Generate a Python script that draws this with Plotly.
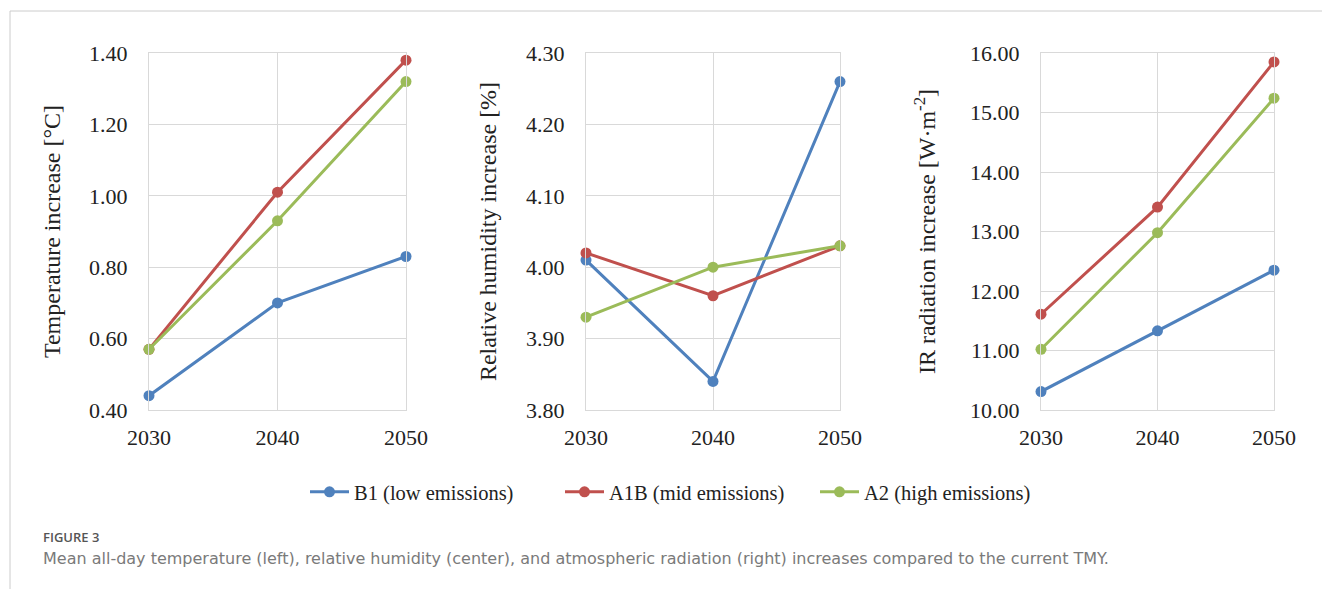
import plotly.graph_objects as go

years = [2030, 2040, 2050]
series_names = ["B1 (low emissions)", "A1B (mid emissions)", "A2 (high emissions)"]
colors = ["#4F81BD", "#C0504D", "#9BBB59"]

temp_b1 = [0.44, 0.70, 0.83]
temp_a1b = [0.57, 1.01, 1.38]
temp_a2 = [0.57, 0.93, 1.32]

rh_b1 = [4.01, 3.84, 4.26]
rh_a1b = [4.02, 3.96, 4.03]
rh_a2 = [3.93, 4.00, 4.03]

ir_b1 = [10.31, 11.33, 12.35]
ir_a1b = [11.61, 13.41, 15.85]
ir_a2 = [11.02, 12.98, 15.24]

temp_ticks = [0.40, 0.60, 0.80, 1.00, 1.20, 1.40]
rh_ticks = [3.80, 3.90, 4.00, 4.10, 4.20, 4.30]
ir_ticks = [10.0, 11.0, 12.0, 13.0, 14.0, 15.0, 16.0]

panels = [
    (temp_b1, temp_a1b, temp_a2, temp_ticks, "Temperature increase [°C]"),
    (rh_b1, rh_a1b, rh_a2, rh_ticks, "Relative humidity increase [%]"),
    (ir_b1, ir_a1b, ir_a2, ir_ticks, "IR radiation increase [W·m<sup>-2</sup>]"),
]

W, H = 1322, 589
x_px = [(149, 406), (586, 840), (1041, 1274)]
title_standoff = [21, 22, 27]
y_top, y_bot = 53, 410

fig = go.Figure()
serif = "Liberation Serif, Times New Roman, serif"
sans = "Open Sans, Noto Sans, sans-serif"

for i, (b1, a1b, a2, ticks, title) in enumerate(panels):
    xa = "x" if i == 0 else f"x{i+1}"
    ya = "y" if i == 0 else f"y{i+1}"
    for j, vals in enumerate([b1, a1b, a2]):
        fig.add_trace(go.Scatter(
            x=years, y=vals, mode="lines+markers",
            name=series_names[j],
            line=dict(color=colors[j], width=3),
            marker=dict(color=colors[j], size=11),
            xaxis=xa, yaxis=ya, showlegend=(i == 0),
            cliponaxis=False,
        ))
    axis_x = dict(
        domain=[x_px[i][0] / W, x_px[i][1] / W],
        range=[2030, 2050], tickvals=years,
        showgrid=True, gridcolor="#D9D9D9", gridwidth=1,
        showline=True, linecolor="#D9D9D9", linewidth=1, mirror=True,
        zeroline=False, automargin=False,
        tickfont=dict(family=serif, size=22, color="#222"),
        ticklabelstandoff=8,
        anchor=ya,
    )
    axis_y = dict(
        domain=[(H - y_bot) / H, (H - y_top) / H],
        range=[ticks[0], ticks[-1]], tickvals=ticks, tickformat=".2f",
        showgrid=True, gridcolor="#D9D9D9", gridwidth=1,
        showline=True, linecolor="#D9D9D9", linewidth=1, mirror=True,
        zeroline=False, automargin=False,
        tickfont=dict(family=serif, size=22, color="#222"),
        ticklabelstandoff=16,
        title=dict(text=title, font=dict(family=serif, size=24, color="#222"),
                   standoff=title_standoff[i]),
        anchor=xa,
    )
    key = "" if i == 0 else str(i + 1)
    fig.layout["xaxis" + key] = axis_x
    fig.layout["yaxis" + key] = axis_y

fig.update_layout(
    width=W, height=H,
    margin=dict(l=0, r=0, t=0, b=0, autoexpand=False),
    paper_bgcolor="white", plot_bgcolor="white",
    legend=dict(
        orientation="h", x=305 / W, xanchor="left", y=(H - 492) / H, yanchor="middle",
        font=dict(family=serif, size=20.5, color="#222"),
        bgcolor="rgba(0,0,0,0)",
        itemwidth=39,
        entrywidth=201, entrywidthmode="pixels",
    ),
    shapes=[
        dict(type="line", xref="paper", yref="paper", x0=10 / W, x1=1, y0=(H - 11) / H, y1=(H - 11) / H,
             line=dict(color="#CCCCCC", width=1)),
        dict(type="line", xref="paper", yref="paper", x0=10 / W, x1=10 / W, y0=0, y1=(H - 11) / H,
             line=dict(color="#CCCCCC", width=1)),
    ],
    annotations=[
        dict(text="FIGURE 3", xref="paper", yref="paper", x=41 / W, y=(H - 537) / H,
             xanchor="left", yanchor="middle", showarrow=False,
             font=dict(family=sans, size=13, color="#555555", weight=600)),
        dict(text="Mean all-day temperature (left), relative humidity (center), and atmospheric radiation (right) increases compared to the current TMY.",
             xref="paper", yref="paper", x=41 / W, y=(H - 558) / H,
             xanchor="left", yanchor="middle", showarrow=False,
             font=dict(family="DejaVu Sans, Open Sans, sans-serif", size=16, color="#7A7A7A", weight=400)),
    ],
)

fig.write_html("out.html", config={"displayModeBar": False},
               post_script="document.body.style.margin='0';document.body.style.overflow='hidden';")
